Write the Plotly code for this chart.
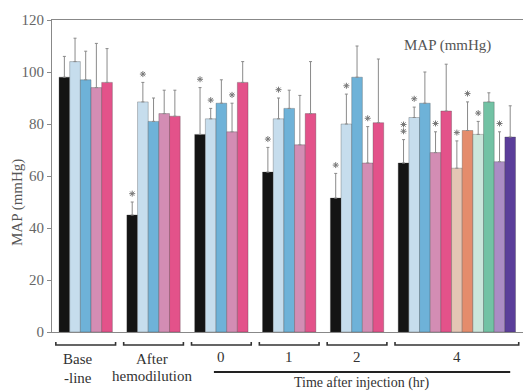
import plotly.graph_objects as go

# ---- data ----
groups = ["Base-line", "After hemodilution", "0", "1", "2", "4"]
series_colors = ["#141414", "#c6dded", "#6eb2d8", "#d38db4", "#e3528a",
                 "#e4c6b4", "#e48c6c", "#cbe6db", "#72c2a4", "#ab8cc4", "#5b3e9a"]
# values per series; None = absent in that group
means = [
    [98, 45, 76, 61.5, 51.5, 65],
    [104, 88.5, 82, 82, 80, 82.5],
    [97, 81, 88, 86, 98, 88],
    [94, 84, 77, 72, 65, 69],
    [96, 83, 96, 84, 80.5, 85],
    [None, None, None, None, None, 63],
    [None, None, None, None, None, 77.5],
    [None, None, None, None, None, 76],
    [None, None, None, None, None, 88.5],
    [None, None, None, None, None, 65.5],
    [None, None, None, None, None, 75],
]
sds = [
    [8, 5, 18, 9.5, 9.5, 9],
    [9, 7.5, 4, 8, 11.5, 4],
    [11, 9, 9, 7, 12, 12],
    [17, 9, 11, 19, 14, 8],
    [13, 10, 8, 20, 24.5, 18],
    [None, None, None, None, None, 10.5],
    [None, None, None, None, None, 11],
    [None, None, None, None, None, 5],
    [None, None, None, None, None, 3.5],
    [None, None, None, None, None, 11.5],
    [None, None, None, None, None, 12],
]
# number of significance marks per bar
stars = [
    [0, 1, 1, 1, 1, 2],
    [0, 1, 1, 1, 1, 1],
    [0, 0, 0, 0, 0, 0],
    [0, 0, 1, 0, 1, 1],
    [0, 0, 0, 0, 0, 0],
    [0, 0, 0, 0, 0, 1],
    [0, 0, 0, 0, 0, 1],
    [0, 0, 0, 0, 0, 1],
    [0, 0, 0, 0, 0, 0],
    [0, 0, 0, 0, 0, 1],
    [0, 0, 0, 0, 0, 0],
]
yticks = [0, 20, 40, 60, 80, 100, 120]

# ---- layout helpers ----
group_step = 6.36
def bar_x(g, i):
    return g * group_step + i + 0.5

FONT = "Liberation Serif"
fig = go.Figure()
sx, sy = [], []
for s, (m, e, st) in enumerate(zip(means, sds, stars)):
    xs, ys, es = [], [], []
    for g in range(len(groups)):
        if m[g] is None:
            continue
        xs.append(bar_x(g, s)); ys.append(m[g]); es.append(e[g])
        for k in range(st[g]):
            sx.append(bar_x(g, s)); sy.append(m[g] + e[g] + 3.2 + k * 2.6)
    fig.add_trace(go.Bar(
        x=xs, y=ys, width=1.0,
        marker=dict(color=series_colors[s], line=dict(color="rgba(60,60,60,0.5)", width=0.6)),
        error_y=dict(type="data", symmetric=False, array=es, arrayminus=[0]*len(es),
                     color="#8a8a8a", thickness=1, width=1.5),
        showlegend=False, hoverinfo="y"))

fig.add_trace(go.Scatter(x=sx, y=sy, mode="markers", showlegend=False, hoverinfo="skip",
                         marker=dict(symbol="asterisk-open", size=5, color="#777",
                                     line=dict(color="#777", width=1))))

# brackets under groups
nbars = [5, 5, 5, 5, 5, 11]
yb = -13 / 312
for g, n in enumerate(nbars):
    x0 = g * group_step + 0.0 - 0.3
    x1 = g * group_step + n + 0.3
    fig.add_shape(type="path", xref="x", yref="paper",
                  path=f"M {x0},{yb + 3/312} L {x0},{yb} L {x1},{yb} L {x1},{yb + 3/312}",
                  line=dict(color="#333", width=1.6))

def pyp(py):
    return (332 - py) / 312

labels = [("Base", 0, 1.75, 359), ("-line", 0, 1.75, 378), ("After", 1, 2.4, 359),
          ("hemodilution", 1, 2.4, 376), ("0", 2, 2.5, 357), ("1", 3, 2.5, 357),
          ("2", 4, 2.5, 357), ("4", 5, 5.5, 357)]
for txt, g, off, py in labels:
    fig.add_annotation(x=g * group_step + off, y=pyp(py), xref="x", yref="paper",
                       xanchor="center", yanchor="middle",
                       text=txt, showarrow=False, font=dict(family=FONT, size=15, color="#333"))

# long line "Time after injection"
fig.add_shape(type="line", xref="x", yref="paper",
              x0=2 * group_step + 1.8, x1=5 * group_step + 10.5, y0=pyp(372), y1=pyp(372),
              line=dict(color="#222", width=2))
fig.add_annotation(x=(2 * group_step + 1.8 + 5 * group_step + 10.5) / 2, y=pyp(383),
                   xref="x", yref="paper", xanchor="center", yanchor="middle",
                   text="Time after injection (hr)", showarrow=False,
                   font=dict(family=FONT, size=14, color="#333"))

fig.add_annotation(x=(17 - 52) / 471, y=pyp(203), xref="paper", yref="paper",
                   xanchor="center", yanchor="middle",
                   text="MAP (mmHg)", textangle=-90, showarrow=False,
                   font=dict(family=FONT, size=15, color="#555"))
fig.add_annotation(x=(447 - 52) / 471, y=pyp(45), xref="paper", yref="paper",
                   xanchor="center", yanchor="middle",
                   text="MAP (mmHg)", showarrow=False,
                   font=dict(family=FONT, size=15, color="#555"))

fig.update_layout(
    width=523, height=392, margin=dict(l=52, r=0, t=20, b=60),
    paper_bgcolor="white", plot_bgcolor="white", barmode="overlay",
    xaxis=dict(range=[-0.66, 43.5], showgrid=False, zeroline=False, showticklabels=False,
               showline=True, mirror=True, linecolor="#888", linewidth=1.2, ticks=""),
    yaxis=dict(range=[0, 120], tickvals=yticks, showgrid=False, zeroline=False,
               showline=True, linecolor="#888", linewidth=1.2, ticks="outside", ticklen=4,
               tickcolor="#888", tickfont=dict(family=FONT, size=15, color="#666")),
)
fig.write_html("out.html")
